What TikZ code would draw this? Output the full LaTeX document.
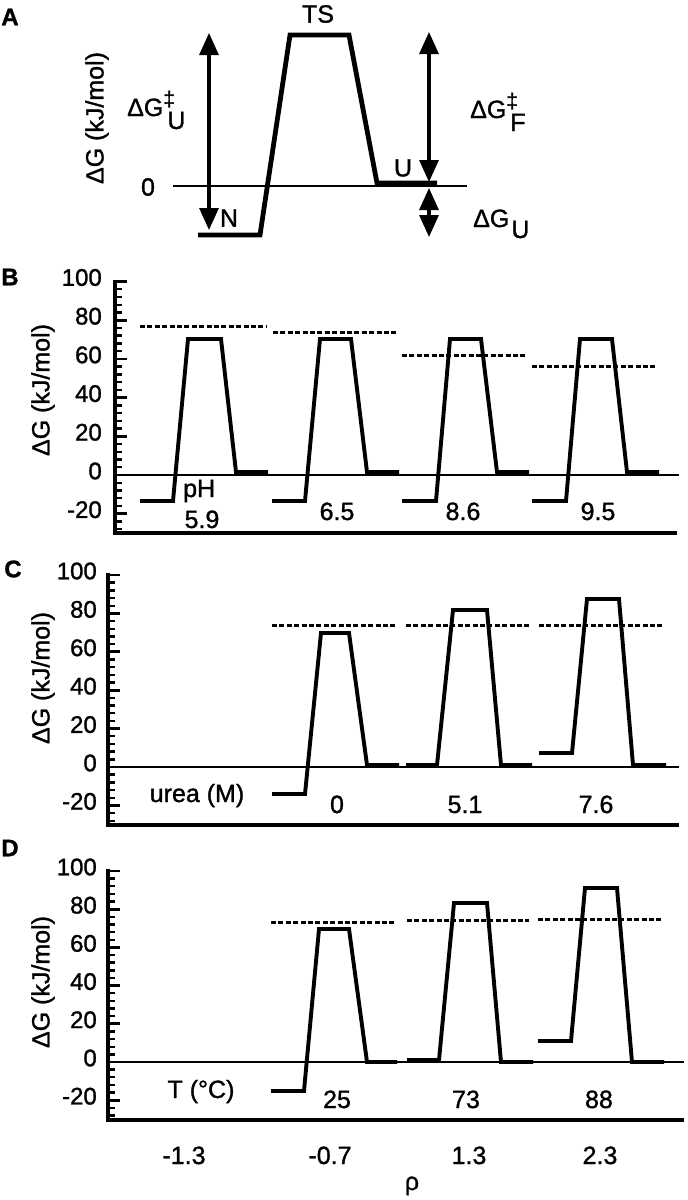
\documentclass[tikz,border=0pt]{standalone}
\usepackage{fontspec}
\setmainfont{Liberation Sans}[FakeBold=1.2]
\usetikzlibrary{arrows.meta}
\tikzset{
  prof/.style={line width=3.9pt, line join=miter},
  profA/.style={line width=4.8pt, line join=miter},
  dashlevel/.style={line width=3pt, dash pattern=on 5pt off 2.4pt},
  zeroline/.style={line width=2.2pt},
  axisline/.style={line width=3.4pt},
  lab/.style={font=\fontsize{25}{29}\selectfont\addfontfeature{FakeBold=1.2}, inner sep=0pt},
  ticklab/.style={font=\fontsize{24}{28}\selectfont\addfontfeature{FakeBold=1.2}, inner sep=0pt, anchor=east},
  panellab/.style={font=\fontsize{24}{28}\selectfont\bfseries, inner sep=0pt},
  bigarrow/.style={line width=3.2pt, {Triangle[width=19pt,length=22pt]}-{Triangle[width=19pt,length=22pt]}}
}
\newcommand\myticks[5]{%
  \foreach \v in {-20,0,20,40,60,80,100}{%
    \draw[line width=2.8pt] (#1,{#2-(\v)*#3}) -- ++(12,0);
    \node[ticklab] (#5\v) at (#4,{#2-(\v)*#3-4}) {\v};
  }%
  \foreach \v in {-28,-24,-16,-12,-8,-4,4,8,12,16,24,28,32,36,44,48,52,56,64,68,72,76,84,88,92,96}{%
    \draw[line width=2.4pt] (#1,{#2-(\v)*#3}) -- ++(7,0);
  }%
}
\begin{document}
\begin{tikzpicture}[x=1pt,y=-1pt]
\fill[white] (0,0) rectangle (688,1200);
\useasboundingbox (0,0) rectangle (688,1200);

% ---------------- Panel A ----------------
\node[panellab] (lA) at (10,17) {A};
\node[lab] (TS) at (318,14) {TS};
\node[lab, rotate=90] (yA) at (97,118) {ΔG (kJ/mol)};
\node[lab] (zA) at (148,187) {0};
\draw[zeroline] (173,186) -- (467,186);
\draw[profA] (198,235) -- (260,235) -- (290,35) -- (349,35) -- (377,183) -- (437,183);
\node[lab] (N) at (229,218) {N};
\node[lab] (U) at (403,168) {U};
\coordinate (aLt) at (209,33);
\coordinate (aLb) at (209,230);
\coordinate (aRt) at (429,32);
\coordinate (aRb) at (429,182);
\coordinate (aSt) at (429,188);
\coordinate (aSb) at (429,237);
\draw[bigarrow] (aLb) -- (aLt);
\draw[bigarrow] (aRb) -- (aRt);
\draw[bigarrow] (aSb) -- (aSt);
\node[lab, anchor=base west] (dGU) at (127,116)
  {ΔG\rlap{\raisebox{10pt}{\fontsize{21}{21}\selectfont ‡}}\hspace{4pt}\raisebox{-13pt}{U}};
\node[lab, anchor=base west] (dGF) at (470,118)
  {ΔG\rlap{\raisebox{10pt}{\fontsize{21}{21}\selectfont ‡}}\hspace{4pt}\raisebox{-13pt}{F}};
\node[lab, anchor=base west] (dGu) at (473,227)
  {ΔG\hspace{2pt}\raisebox{-11pt}{U}};

% ---------------- Panel B ----------------
\node[panellab] (lB) at (10,277) {B};
\node[lab, rotate=90] (yB) at (43,390) {ΔG (kJ/mol)};
\myticks{115}{475}{1.935}{102}{tB}
\draw[zeroline] (115,475) -- (679,475);
\draw[axisline] (115,280) -- (115,534.7);
\draw[line width=3.5pt] (113.3,533) -- (677,533);
\draw[prof] (140,501) -- (173,501) -- (188,339) -- (221,339) -- (236,472) -- (268,472);
\draw[prof] (272,501) -- (305,501) -- (320,339) -- (351,339) -- (367,472) -- (399,472);
\draw[prof] (402,501) -- (436,501) -- (450,339) -- (481,339) -- (497,472) -- (529,472);
\draw[prof] (532,501) -- (566,501) -- (580,339) -- (612,339) -- (627,472) -- (659,472);
\draw[dashlevel] (140,326) -- (266,326);
\draw[dashlevel] (273,332) -- (396,332);
\draw[dashlevel] (402,355) -- (527,355);
\draw[dashlevel] (532,366) -- (657,366);
\node[lab, anchor=base west] (pH) at (183,497) {pH};
\node[lab, anchor=base] (b1) at (202,528) {5.9};
\node[lab, anchor=base] (b2) at (337,520) {6.5};
\node[lab, anchor=base] (b3) at (463,520) {8.6};
\node[lab, anchor=base] (b4) at (598,520) {9.5};

% ---------------- Panel C ----------------
\node[panellab] (lC) at (13,569) {C};
\node[lab, rotate=90] (yC) at (43,678) {ΔG (kJ/mol)};
\myticks{108}{767}{1.92}{97}{tC}
\draw[zeroline] (108,767) -- (679,767);
\draw[axisline] (108,573) -- (108,826.7);
\draw[line width=3.5pt] (106.3,825) -- (679,825);
\draw[prof] (272,794) -- (305,794) -- (321,633) -- (349,633) -- (367,765) -- (399,765);
\draw[prof] (406,765) -- (437,765) -- (453,610) -- (487,610) -- (501,765) -- (532,765);
\draw[prof] (539,753) -- (572,753) -- (587,599) -- (619,599) -- (633,765) -- (666,765);
\draw[dashlevel] (272,625) -- (396,625);
\draw[dashlevel] (406,625) -- (530,625);
\draw[dashlevel] (539,625) -- (663,625);
\node[lab, anchor=base] (urea) at (197,802) {urea (M)};
\node[lab, anchor=base] (c1) at (337,813) {0};
\node[lab, anchor=base] (c2) at (465,813) {5.1};
\node[lab, anchor=base] (c3) at (596,813) {7.6};

% ---------------- Panel D ----------------
\node[panellab] (lD) at (10,848) {D};
\node[lab, rotate=90] (yD) at (43,982) {ΔG (kJ/mol)};
\myticks{108}{1062}{1.91}{97}{tD}
\draw[zeroline] (108,1062) -- (684,1062);
\draw[axisline] (108,869) -- (108,1121.7);
\draw[line width=3.5pt] (106.3,1120) -- (684,1120);
\draw[prof] (271,1091) -- (304,1091) -- (319,929) -- (349,929) -- (367,1062) -- (397,1062);
\draw[prof] (407,1060) -- (439,1060) -- (454,903) -- (487,903) -- (501,1062) -- (533,1062);
\draw[prof] (538,1041) -- (571,1041) -- (585,888) -- (617,888) -- (632,1062) -- (664,1062);
\draw[dashlevel] (271,922) -- (395,922);
\draw[dashlevel] (407,920) -- (529,920);
\draw[dashlevel] (538,919) -- (662,919);
\node[lab, anchor=base] (Tc) at (201,1098) {T (°C)};
\node[lab, anchor=base] (d1) at (337,1108) {25};
\node[lab, anchor=base] (d2) at (466,1108) {73};
\node[lab, anchor=base] (d3) at (599,1108) {88};

% rho axis labels
\node[lab, anchor=base] (r1) at (184,1164) {-1.3};
\node[lab, anchor=base] (r2) at (330,1164) {-0.7};
\node[lab, anchor=base] (r3) at (469,1164) {1.3};
\node[lab, anchor=base] (r4) at (600,1164) {2.3};
\node[lab, anchor=base] (rho) at (412,1190) {ρ};
\end{tikzpicture}
\end{document}
